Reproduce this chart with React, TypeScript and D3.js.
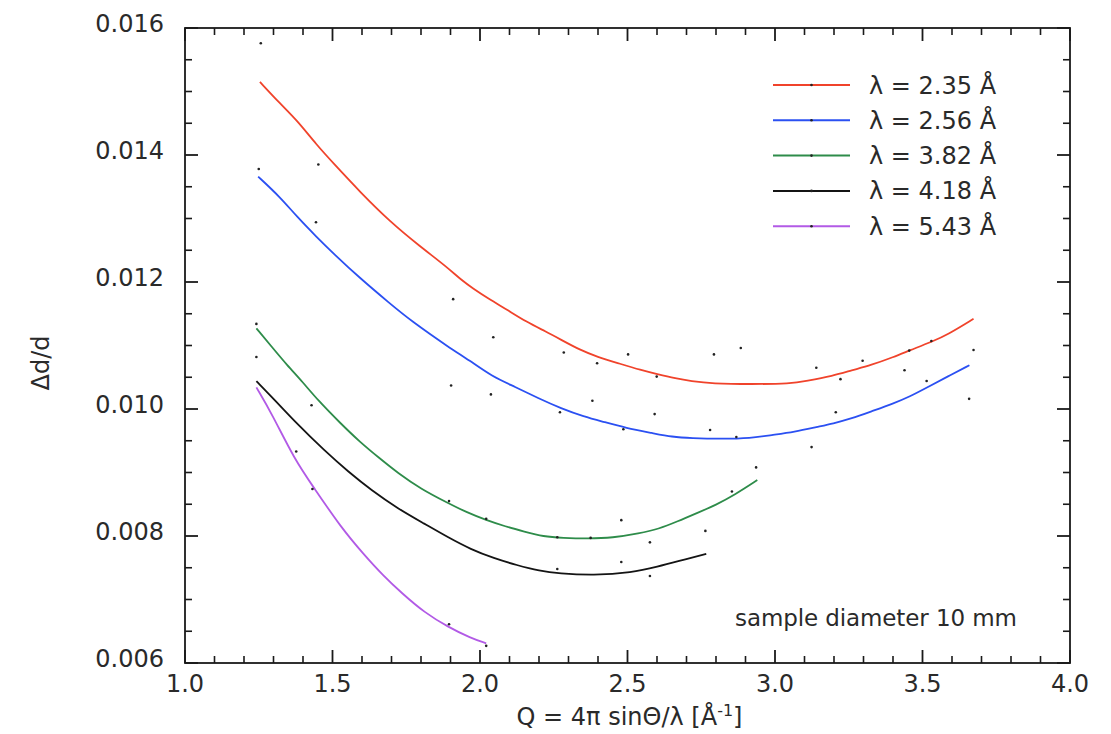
import React from "react";
import * as d3 from "d3";

// ---- data ----
const seriesLabels = ["λ = 2.35 Å", "λ = 2.56 Å", "λ = 3.82 Å", "λ = 4.18 Å", "λ = 5.43 Å"];
const seriesColors = ["#f0432b", "#2b50f2", "#2e8c4a", "#141414", "#b25ae6"];

const redQ = [1.254, 1.322, 1.379, 1.446, 1.503, 1.593, 1.695, 1.797, 1.887, 1.937, 1.976, 2.028, 2.093, 2.158, 2.223, 2.275, 2.339, 2.398, 2.469, 2.547, 2.599, 2.664, 2.715, 2.787, 2.92, 3.053, 3.105, 3.196, 3.26, 3.325, 3.403, 3.455, 3.532, 3.585, 3.673];
const redD = [0.01515, 0.01481, 0.01455, 0.01416, 0.01387, 0.01342, 0.01295, 0.01256, 0.01224, 0.01203, 0.0119, 0.01174, 0.01156, 0.01137, 0.01122, 0.01109, 0.01093, 0.01082, 0.01072, 0.01061, 0.01055, 0.01048, 0.01044, 0.0104, 0.01039, 0.0104, 0.01044, 0.01052, 0.01061, 0.01069, 0.01082, 0.01092, 0.01106, 0.01117, 0.01142];

const blueQ = [1.248, 1.322, 1.379, 1.446, 1.503, 1.593, 1.695, 1.763, 1.898, 1.963, 2.041, 2.119, 2.197, 2.275, 2.353, 2.417, 2.495, 2.586, 2.651, 2.715, 2.82, 2.917, 2.988, 3.066, 3.144, 3.196, 3.26, 3.325, 3.403, 3.455, 3.52, 3.585, 3.659];
const blueD = [0.01366, 0.01334, 0.01303, 0.01271, 0.01245, 0.01206, 0.01166, 0.0114, 0.01096, 0.01077, 0.01051, 0.01035, 0.01017, 0.01001, 0.00988, 0.0098, 0.0097, 0.00962, 0.00956, 0.00954, 0.00953, 0.00954, 0.00959, 0.00964, 0.00972, 0.00977, 0.00985, 0.00996, 0.01009, 0.01019, 0.01035, 0.01051, 0.01069];

const greenQ = [1.242, 1.294, 1.346, 1.398, 1.45, 1.528, 1.593, 1.658, 1.722, 1.8, 1.891, 1.956, 2.021, 2.086, 2.15, 2.215, 2.28, 2.365, 2.449, 2.54, 2.605, 2.67, 2.735, 2.8, 2.864, 2.94];
const greenD = [0.01127, 0.01098, 0.01069, 0.01043, 0.01014, 0.00977, 0.00948, 0.00923, 0.00899, 0.00874, 0.00852, 0.00837, 0.00825, 0.00815, 0.00807, 0.00799, 0.00797, 0.00796, 0.00797, 0.00804, 0.00811, 0.00823, 0.00836, 0.00849, 0.00865, 0.00888];

const blackQ = [1.242, 1.288, 1.372, 1.476, 1.554, 1.632, 1.722, 1.813, 1.891, 1.969, 2.047, 2.125, 2.202, 2.267, 2.384, 2.514, 2.605, 2.67, 2.767];
const blackD = [0.01044, 0.01022, 0.0098, 0.00933, 0.00901, 0.00872, 0.00843, 0.00819, 0.00798, 0.00779, 0.00765, 0.00754, 0.00745, 0.00741, 0.00738, 0.00742, 0.00752, 0.0076, 0.00772];

const purpleQ = [1.242, 1.294, 1.372, 1.437, 1.528, 1.606, 1.671, 1.735, 1.813, 1.891, 1.969, 2.021];
const purpleD = [0.01034, 0.00993, 0.0092, 0.00876, 0.00814, 0.00771, 0.00738, 0.0071, 0.00679, 0.00657, 0.00639, 0.00631];

const seriesQ = [redQ, blueQ, greenQ, blackQ, purpleQ];
const seriesD = [redD, blueD, greenD, blackD, purpleD];

// measured points (small black dots)
const pointQ = [1.257, 1.25, 1.452, 1.444, 1.909, 2.045, 2.284, 2.502, 2.397, 2.599, 2.793, 2.884, 3.14, 3.222, 3.297, 3.455, 3.53, 3.439, 3.673, 3.514, 3.658, 1.902, 2.037, 2.381, 2.271, 2.592, 2.486, 2.78, 2.869, 3.206, 3.124, 2.936, 2.854, 1.242, 1.242, 1.429, 1.377, 1.432, 1.895, 2.021, 2.479, 2.262, 2.375, 2.764, 2.576, 2.479, 2.576, 2.262, 1.895, 2.021];
const pointD = [0.01576, 0.01378, 0.01385, 0.01294, 0.01173, 0.01113, 0.01089, 0.01086, 0.01072, 0.01051, 0.01086, 0.01096, 0.01065, 0.01047, 0.01076, 0.01092, 0.01107, 0.01061, 0.01093, 0.01044, 0.01016, 0.01037, 0.01023, 0.01013, 0.00995, 0.00992, 0.00968, 0.00967, 0.00956, 0.00995, 0.0094, 0.00908, 0.0087, 0.01134, 0.01082, 0.01006, 0.00933, 0.00874, 0.00855, 0.00827, 0.00825, 0.00798, 0.00797, 0.00808, 0.0079, 0.00759, 0.00737, 0.00748, 0.00661, 0.00627];

const xTicks = [1.0, 1.5, 2.0, 2.5, 3.0, 3.5, 4.0];
const yTicks = [0.006, 0.008, 0.01, 0.012, 0.014, 0.016];

const W = 1111;
const H = 734;
const left = 185, right = 1070, top = 28, bottom = 663;
const FONT = "'DejaVu Sans', Verdana, sans-serif";
const TEXT = "#2a2a2a";

export default function App() {
  const x = d3.scaleLinear().domain([1, 4]).range([left, right]);
  const y = d3.scaleLinear().domain([0.006, 0.016]).range([bottom, top]);

  const xMinor = d3.range(10, 41).map((v) => v / 10).filter((v) => Math.round(v * 10) % 5 !== 0);
  const yMinor = d3.range(12, 33).filter((v) => v % 4 !== 0).map((v) => v / 2000);

  const axisColor = "#1a1a1a";
  const MAJ = 13, MIN = 7;

  const legendX0 = 773, legendX1 = 850, legendY0 = 85, legendDY = 35.3;
  const l = d3.line().curve(d3.curveBasis);

  return (
    <svg
      width={W}
      height={H}
      style={{ position: "absolute", left: 0, top: 0, background: "#fff", display: "block" }}
      fontFamily={FONT}
    >
      <rect x={0} y={0} width={W} height={H} fill="#fff" />
      {/* curves */}
      {seriesQ.map((qs, si) => {
        const pts: [number, number][] = qs.map((q, i) => [x(q), y(seriesD[si][i])]);
        return (
          <path key={si} d={l(pts) || ""} fill="none" stroke={seriesColors[si]} strokeWidth={1.8} />
        );
      })}
      {/* data points */}
      {pointQ.map((q, i) => (
        <circle key={i} cx={x(q)} cy={y(pointD[i])} r={1.3} fill="#222" />
      ))}

      {/* frame */}
      <rect x={left} y={top} width={right - left} height={bottom - top} fill="none" stroke={axisColor} strokeWidth={1.8} />

      {/* x ticks bottom and top */}
      {xTicks.map((t) => (
        <g key={"xt" + t}>
          <line x1={x(t)} x2={x(t)} y1={bottom} y2={bottom - MAJ} stroke={axisColor} strokeWidth={1.8} />
          <line x1={x(t)} x2={x(t)} y1={top} y2={top + MAJ} stroke={axisColor} strokeWidth={1.8} />
          <text x={x(t)} y={692} textAnchor="middle" fontSize={24} fill={TEXT}>
            {t.toFixed(1)}
          </text>
        </g>
      ))}
      {xMinor.map((t) => (
        <g key={"xm" + t}>
          <line x1={x(t)} x2={x(t)} y1={bottom} y2={bottom - MIN} stroke={axisColor} strokeWidth={1.6} />
          <line x1={x(t)} x2={x(t)} y1={top} y2={top + MIN} stroke={axisColor} strokeWidth={1.6} />
        </g>
      ))}
      {/* y ticks left and right */}
      {yTicks.map((t) => (
        <g key={"yt" + t}>
          <line x1={left} x2={left + MAJ} y1={y(t)} y2={y(t)} stroke={axisColor} strokeWidth={1.8} />
          <line x1={right} x2={right - MAJ} y1={y(t)} y2={y(t)} stroke={axisColor} strokeWidth={1.8} />
          <text x={164} y={y(t) + 3.5} textAnchor="end" fontSize={24} fill={TEXT}>
            {t.toFixed(3)}
          </text>
        </g>
      ))}
      {yMinor.map((t) => (
        <g key={"ym" + t}>
          <line x1={left} x2={left + MIN} y1={y(t)} y2={y(t)} stroke={axisColor} strokeWidth={1.6} />
          <line x1={right} x2={right - MIN} y1={y(t)} y2={y(t)} stroke={axisColor} strokeWidth={1.6} />
        </g>
      ))}

      {/* axis titles */}
      <text x={(left + right) / 2 + 2} y={725} textAnchor="middle" fontSize={24} fill={TEXT}>
        Q = 4π sinΘ/λ [Å<tspan dy={-9} fontSize={16}>-1</tspan><tspan dy={9}>]</tspan>
      </text>
      <text
        transform={`translate(49, 363) rotate(-90)`}
        textAnchor="middle"
        fontSize={24}
        fill={TEXT}
      >
        Δd/d
      </text>

      {/* legend */}
      {seriesLabels.map((lab, i) => {
        const ly = legendY0 + i * legendDY;
        return (
          <g key={"lg" + i}>
            <line x1={legendX0} x2={legendX1} y1={ly} y2={ly} stroke={seriesColors[i]} strokeWidth={2} />
            <circle cx={(legendX0 + legendX1) / 2} cy={ly} r={1.3} fill="#222" />
            <text x={869} y={ly + 8.5} fontSize={24} fill={TEXT}>
              {lab}
            </text>
          </g>
        );
      })}

      {/* annotation */}
      <text x={735} y={626} fontSize={23} fill={TEXT} letterSpacing={-0.1}>
        sample diameter 10 mm
      </text>
    </svg>
  );
}
